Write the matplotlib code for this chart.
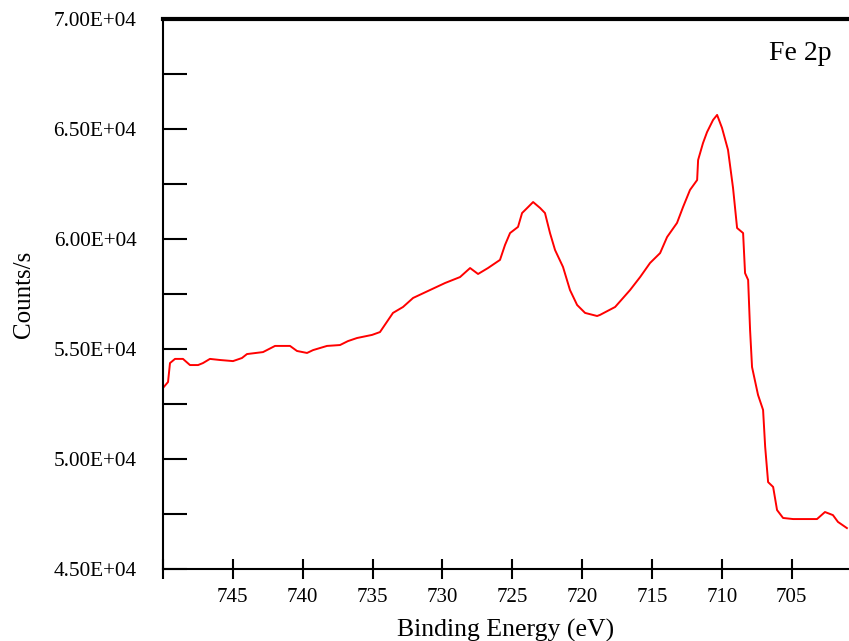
import matplotlib
matplotlib.use('Agg')
import matplotlib.pyplot as plt
from matplotlib.ticker import MultipleLocator, FuncFormatter

plt.rcParams['font.family'] = ['Liberation Serif', 'DejaVu Serif']

# Fe 2p spectrum
energy = [750.0, 749.64, 749.5, 749.14, 748.57, 748.07, 747.49, 747.14, 746.64, 745.92,
          744.99, 744.35, 743.99, 742.84, 741.98, 740.91, 740.41, 739.69, 739.26, 738.26,
          737.33, 736.76, 736.11, 735.04, 734.47, 733.54, 732.82, 732.1, 730.89, 729.81,
          728.74, 728.02, 727.45, 726.74, 725.88, 725.52, 725.16, 724.59, 724.3, 723.87,
          723.51, 723.01, 722.66, 722.3, 721.94, 721.37, 720.87, 720.36, 719.79, 718.93,
          718.72, 717.64, 716.57, 715.85, 715.14, 714.42, 713.92, 713.21, 712.78, 712.28,
          711.77, 711.7, 711.35, 711.06, 710.63, 710.34, 709.99, 709.56, 709.2, 708.91,
          708.48, 708.34, 708.12, 707.98, 707.84, 707.41, 707.05, 706.9, 706.69, 706.33,
          706.05, 705.62, 704.9, 703.19, 702.62, 702.05, 701.69, 701.05]
counts = [53230, 53500, 54360, 54550, 54550, 54270, 54270, 54360, 54550, 54500,
          54450, 54590, 54770, 54860, 55140, 55140, 54910, 54820, 54950, 55140,
          55180, 55360, 55500, 55640, 55770, 56640, 56910, 57320, 57680, 58000,
          58270, 58680, 58410, 58680, 59050, 59730, 60270, 60550, 61180, 61450,
          61680, 61410, 61180, 60270, 59500, 58730, 57680, 57000, 56640, 56500,
          56550, 56910, 57680, 58270, 58910, 59360, 60090, 60730, 61450, 62230,
          62680, 63590, 64360, 64860, 65410, 65640, 65050, 64050, 62320, 60500,
          60270, 58450, 58140, 55860, 54180, 52910, 52230, 50550, 48950, 48730,
          47680, 47320, 47270, 47270, 47590, 47450, 47140, 46860]

fig = plt.figure(figsize=(8.49, 6.41), dpi=100)
ax = fig.add_axes([163/849, 1 - 569/641, 1 - 163/849, 550/641])

ax.plot(energy, counts, color='red', lw=1.4)

ax.set_xlim(750, 700.9)
ax.set_ylim(45000, 70000)

ax.xaxis.set_major_locator(MultipleLocator(5))
ax.xaxis.set_major_formatter(FuncFormatter(lambda v, p: '' if v >= 750 else '%d' % v))
ax.yaxis.set_major_locator(MultipleLocator(5000))
ax.yaxis.set_minor_locator(MultipleLocator(2500))
ax.yaxis.set_major_formatter(FuncFormatter(lambda v, p: '%.2fE+04' % (v / 10000)))

ax.tick_params(axis='x', direction='inout', length=14, width=1.5, labelsize=15, pad=7)
ax.tick_params(axis='y', which='both', direction='in', length=17, width=1.5, labelsize=15.3, pad=19)

ax.spines['right'].set_visible(False)
ax.spines['top'].set_linewidth(3)
ax.spines['left'].set_linewidth(1.5)
ax.spines['bottom'].set_linewidth(1.5)

ax.set_xlabel('Binding Energy (eV)', fontsize=18.5, labelpad=8)
ax.set_ylabel('Counts/s', fontsize=18, labelpad=13)

ax.text(0.929, 0.938, 'Fe 2p', transform=ax.transAxes, fontsize=20, ha='center', va='center')

fig.savefig('out.png', dpi=100)
